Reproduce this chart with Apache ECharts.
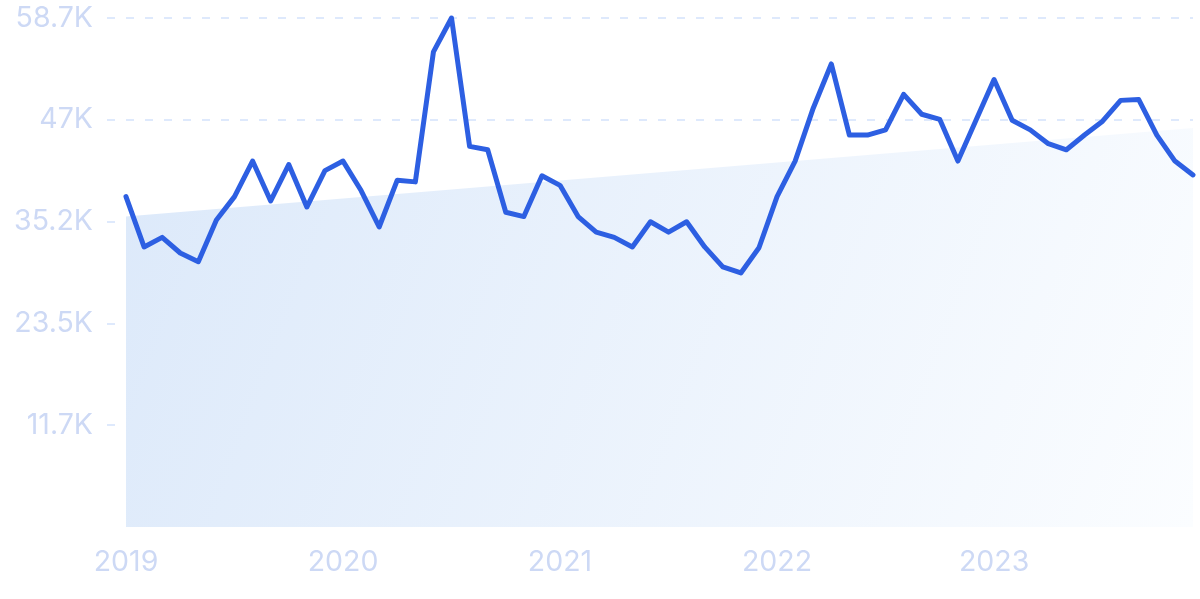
<!DOCTYPE html>
<html>
<head>
<meta charset="utf-8">
<script src="https://cdn.jsdelivr.net/npm/echarts@6/dist/echarts.min.js"></script>
<style>
html,body{margin:0;padding:0;background:#fff;}
#chart{width:1200px;height:599px;}
</style>
</head>
<body>
<div id="chart"></div>
<script>
// Monthly values Jan 2019 .. Dec 2023
const values = [
  38100, 32300, 33400, 31600, 30600, 35400, 38100, 42200, 37600, 41800, 36900, 41100,
  42200, 38800, 34600, 40000, 39800, 54800, 58700, 43900, 43500, 36300, 35800, 40500,
  39400, 35800, 34000, 33400, 32300, 35200, 34000, 35200, 32300, 30000, 29300, 32200,
  38100, 42200, 48300, 53400, 45200, 45200, 45800, 49900, 47600, 47000, 42200, 46900,
  51600, 46900, 45800, 44200, 43500, 45200, 46800, 49200, 49300, 45200, 42200, 40600
];
const yearLabels = ['2019', '2020', '2021', '2022', '2023'];
const yearTickIndex = [0, 12, 24, 36, 48];
const trendValues = [35800, 46000]; // trend line start (first month) and end (last month)
const yMax = 58700;
const yInterval = 11740;

const lineData = values.map((v, i) => [i, v]);
const trendData = [[0, trendValues[0]], [values.length - 1, trendValues[1]]];

const chart = echarts.init(document.getElementById('chart'), null, {renderer: 'canvas'});
const labelColor = '#cdd9f5';
chart.setOption({
  animation: false,
  backgroundColor: '#ffffff',
  grid: {left: 107, right: 7, top: 18, bottom: 72, containLabel: false},
  xAxis: {
    type: 'value',
    min: -1.05,
    max: values.length - 1,
    axisLine: {show: false},
    axisTick: {show: false},
    splitLine: {show: false},
    axisLabel: {
      customValues: yearTickIndex,
      formatter: function (v) {
        const k = yearTickIndex.indexOf(Math.round(v));
        return k >= 0 ? yearLabels[k] : '';
      },
      color: labelColor,
      fontFamily: 'Inter',
      fontSize: 28.5,
      margin: 21
    }
  },
  yAxis: {
    type: 'value',
    min: 0,
    max: yMax,
    interval: yInterval,
    axisLine: {show: false},
    axisTick: {show: false},
    axisLabel: {
      formatter: function (v) {
        if (v === 0) return '';
        let s = (v / 1000).toFixed(1);
        if (s.endsWith('.0')) s = s.slice(0, -2);
        return s + 'K';
      },
      color: labelColor,
      fontFamily: 'Inter',
      fontSize: 28.5,
      margin: 14
    },
    splitLine: {
      show: true,
      showMinLine: false,
      lineStyle: {color: '#d3e2fb', width: 1.5, type: [8, 11]}
    }
  },
  series: [
    {
      type: 'line',
      data: trendData,
      symbol: 'none',
      silent: true,
      z: 1,
      lineStyle: {width: 0, opacity: 0},
      areaStyle: {
        opacity: 1,
        color: new echarts.graphic.LinearGradient(0, 0, 1, 1, [
          {offset: 0, color: '#dce9fa'},
          {offset: 1, color: '#fbfdff'}
        ])
      }
    },
    {
      type: 'line',
      data: lineData,
      symbol: 'none',
      z: 3,
      clip: false,
      lineStyle: {color: '#2d5fe2', width: 5, join: 'round', cap: 'round'}
    }
  ]
});
</script>
</body>
</html>
